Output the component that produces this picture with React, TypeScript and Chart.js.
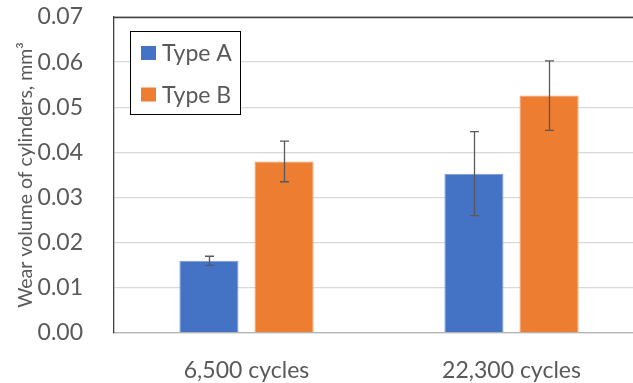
import React, { useEffect, useRef } from 'react';
import { Chart, registerables } from 'chart.js';

Chart.register(...registerables);

const categories = ['6,500 cycles', '22,300 cycles'];
const seriesNames = ['Type A', 'Type B'];
const typeA = [0.016, 0.0353];
const typeB = [0.038, 0.0526];
const errA = [0.001, 0.0093];
const errB = [0.0045, 0.0077];
const yMin = 0;
const yMax = 0.07;
const yStep = 0.01;
const colors = ['#4472C4', '#ED7D31'];
const edgeColors = ['#7C9BD6', '#F29E66'];
const errors = [errA, errB];

const FONT = 'Lato, "Open Sans", sans-serif';

const errorBarPlugin = {
  id: 'errorBars',
  afterDatasetsDraw(chart: any) {
    const { ctx } = chart;
    const yScale = chart.scales.y;
    ctx.save();
    ctx.strokeStyle = '#595959';
    ctx.lineWidth = 1.3;
    chart.data.datasets.forEach((ds: any, di: number) => {
      const meta = chart.getDatasetMeta(di);
      meta.data.forEach((el: any, i: number) => {
        const v = ds.data[i];
        const e = errors[di][i];
        const x = Math.round(el.x) + 0.5;
        const yT = yScale.getPixelForValue(v + e);
        const yB = yScale.getPixelForValue(v - e);
        const cap = 4.5;
        ctx.beginPath();
        ctx.moveTo(x, yT);
        ctx.lineTo(x, yB);
        ctx.moveTo(x - cap, yT);
        ctx.lineTo(x + cap, yT);
        ctx.moveTo(x - cap, yB);
        ctx.lineTo(x + cap, yB);
        ctx.stroke();
      });
    });
    ctx.restore();
  },
};

const frameAndLegendPlugin = {
  id: 'frameLegend',
  afterDraw(chart: any) {
    const { ctx, chartArea } = chart;
    ctx.save();
    ctx.strokeStyle = '#404040';
    ctx.lineWidth = 1.3;
    ctx.beginPath();
    ctx.moveTo(chartArea.left, Math.round(chartArea.top) + 0.5);
    ctx.lineTo(chartArea.right, Math.round(chartArea.top) + 0.5);
    ctx.stroke();

    const bx = chartArea.left + 16.5;
    const by = chartArea.top + 14.5;
    const bw = 110;
    const bh = 83;
    ctx.fillStyle = '#FFFFFF';
    ctx.fillRect(bx, by, bw, bh);
    ctx.strokeStyle = '#000000';
    ctx.lineWidth = 1;
    ctx.strokeRect(bx, by, bw, bh);
    ctx.font = `23px ${FONT}`;
    ctx.textBaseline = 'middle';
    ctx.textAlign = 'left';
    chart.data.datasets.forEach((ds: any, i: number) => {
      const cy = by + 21.5 + i * 41.5;
      ctx.fillStyle = ds.backgroundColor;
      ctx.fillRect(bx + 10.5, cy - 7, 15, 14);
      ctx.fillStyle = '#595959';
      ctx.fillText(ds.label, bx + 31.5, cy + 1);
    });
    ctx.restore();
  },
};

export default function App() {
  const ref = useRef<HTMLCanvasElement | null>(null);

  useEffect(() => {
    if (!ref.current) return;
    const chart = new Chart(ref.current, {
      type: 'bar',
      data: {
        labels: categories,
        datasets: [
          { label: seriesNames[0], data: typeA, backgroundColor: colors[0], borderColor: edgeColors[0], borderWidth: 1 },
          { label: seriesNames[1], data: typeB, backgroundColor: colors[1], borderColor: edgeColors[1], borderWidth: 1 },
        ],
      },
      options: {
        animation: false,
        responsive: false,
        devicePixelRatio: 1,
        categoryPercentage: 0.567,
        barPercentage: 0.787,
        layout: { padding: { top: 17, right: 0, bottom: 0, left: 0 } },
        plugins: {
          legend: { display: false },
          tooltip: { enabled: false },
        },
        scales: {
          x: {
            grid: { display: false, drawTicks: false },
            border: { display: true, color: '#B4B4B4', width: 1.3 },
            ticks: {
              color: '#595959',
              font: { family: FONT, size: 23 },
              padding: 24,
            },
            afterFit: (scale: any) => {
              scale.height = 50;
              scale.paddingLeft = 0;
              scale.paddingRight = 0;
            },
          },
          y: {
            min: yMin,
            max: yMax,
            grid: { color: '#D9D9D9', lineWidth: 1.3, drawTicks: false },
            border: { display: true, color: '#404040', width: 1.3 },
            ticks: {
              stepSize: yStep,
              color: '#595959',
              font: { family: FONT, size: 23 },
              padding: 31,
              callback: (v: any) => Number(v).toFixed(2),
            },
            title: {
              display: true,
              text: 'Wear volume of cylinders, mm³',
              color: '#595959',
              font: { family: FONT, size: 19.5, weight: 'normal' },
              padding: { top: 14, bottom: 0 },
            },
            afterFit: (scale: any) => {
              scale.width = 114;
              scale.paddingTop = 0;
              scale.paddingBottom = 0;
            },
          },
        },
      },
      plugins: [errorBarPlugin, frameAndLegendPlugin],
    });
    return () => chart.destroy();
  }, []);

  return (
    <div style={{ position: 'fixed', left: 0, top: 0, width: 644, height: 383, background: '#fff' }}>
      <canvas ref={ref} width={644} height={383} style={{ display: 'block' }} />
    </div>
  );
}
